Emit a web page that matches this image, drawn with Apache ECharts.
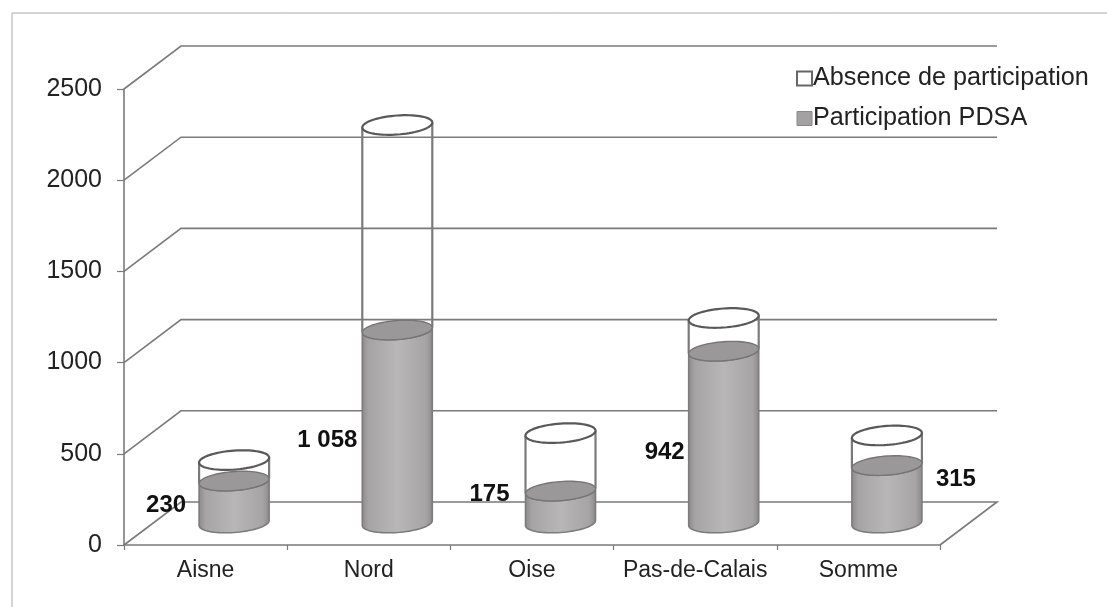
<!DOCTYPE html>
<html>
<head>
<meta charset="utf-8">
<style>html,body{margin:0;padding:0;background:#fff}#c{width:1107px;height:607px}</style>
<script src="https://cdn.jsdelivr.net/npm/echarts@6/dist/echarts.min.js"></script>
</head>
<body>
<div id="c"></div>
<script>
const categories = ['Aisne', 'Nord', 'Oise', 'Pas-de-Calais', 'Somme'];
const participation = [230, 1058, 175, 942, 315];
const absence = [115, 1124, 318, 182, 165];
const yTicks = [0, 500, 1000, 1500, 2000, 2500];
const seriesNames = ['Absence de participation', 'Participation PDSA'];

// 3D projection and label placement (style, not data)
const depth = { x: 57, y: -43 };
const cyl = { dx: 28.5, dy: -22, rx: 35, ry: 9.5, tilt: 0.07 };
const labelShift = [[-68, 24], [-70, 110], [-71, 3], [-59, 101], [69, 14]];
const font = 'Liberation Sans, Arial, sans-serif';
const lineGrey = '#7a7a7a';

function fmt(v) { return String(v).replace(/\B(?=(\d{3})+$)/g, ' '); }
function ellPt(cx, cy, t) {
  const c = Math.cos(t), s = Math.sin(t);
  return [cx + cyl.rx * c, cy + cyl.ry * s - cyl.rx * cyl.tilt * c];
}
function ellipse(cx, cy) {
  const p = [];
  for (let i = 0; i < 72; i++) p.push(ellPt(cx, cy, i / 72 * 2 * Math.PI));
  return p;
}
function body(cx, yTop, yBot) {
  const p = [];
  for (let i = 0; i <= 36; i++) p.push(ellPt(cx, yBot, i / 36 * Math.PI));
  for (let i = 36; i >= 0; i--) p.push(ellPt(cx, yTop, i / 36 * Math.PI));
  return p;
}
const bodyFill = {
  type: 'linear', x: 0, y: 0, x2: 1, y2: 0,
  colorStops: [
    { offset: 0, color: '#8a8888' }, { offset: 0.1, color: '#a6a4a4' },
    { offset: 0.5, color: '#b8b6b6' }, { offset: 0.9, color: '#a6a4a4' },
    { offset: 1, color: '#8a8888' }
  ]
};

function renderWall(params, api) {
  const cs = params.coordSys;
  const y = api.coord([0, api.value(0)])[1];
  const x0 = cs.x, x1 = cs.x + depth.x, x2 = cs.x + cs.width + depth.x, y1 = y + depth.y;
  const pts = [[x0, y], [x1, y1], [x2, y1]];
  if (api.value(0) === 0) pts.push([cs.x + cs.width, y]);
  return {
    type: 'polyline', silent: true,
    shape: { points: pts },
    style: { fill: 'none', stroke: lineGrey, lineWidth: 1.6 }
  };
}
function renderFull(params, api) {
  const c0 = api.coord([api.value(0), 0]);
  const cx = c0[0] + cyl.dx;
  const yBot = c0[1] + cyl.dy;
  const yTop = api.coord([api.value(0), api.value(1)])[1] + cyl.dy;
  const i = api.value(0);
  const lab = labelShift[i];
  return {
    type: 'group', children: [
      { type: 'polygon', shape: { points: body(cx, yTop, yBot) },
        style: { fill: bodyFill, stroke: '#7d7b7b', lineWidth: 1.6 } },
      { type: 'polygon', shape: { points: ellipse(cx, yTop) },
        style: { fill: '#9a9898', stroke: '#777575', lineWidth: 1.4 } },
      { type: 'text', z2: 50,
        style: { x: cx + lab[0], y: yTop + lab[1], text: fmt(api.value(1)), fill: '#111',
          font: 'bold 24px ' + font, align: 'center', verticalAlign: 'middle' } }
    ]
  };
}
function renderEmpty(params, api) {
  const i = api.value(0);
  const c0 = api.coord([i, 0]);
  const cx = c0[0] + cyl.dx;
  const yLow = api.coord([i, api.value(1)])[1] + cyl.dy;
  const yTop = api.coord([i, api.value(1) + api.value(2)])[1] + cyl.dy;
  const l = ellPt(cx, 0, Math.PI), r = ellPt(cx, 0, 0);
  return {
    type: 'group', children: [
      { type: 'line', shape: { x1: l[0], y1: yTop + l[1], x2: l[0], y2: yLow + l[1] },
        style: { stroke: lineGrey, lineWidth: 2.2 } },
      { type: 'line', shape: { x1: r[0], y1: yTop + r[1], x2: r[0], y2: yLow + r[1] },
        style: { stroke: lineGrey, lineWidth: 2.2 } },
      { type: 'polygon', shape: { points: ellipse(cx, yTop) },
        style: { fill: '#fff', stroke: '#5a5858', lineWidth: 2.2 } }
    ]
  };
}

const chart = echarts.init(document.getElementById('c'), null, { renderer: 'canvas' });
chart.setOption({
  animation: false,
  backgroundColor: '#ffffff',
  textStyle: { fontFamily: font },
  graphic: [{
    type: 'polyline', silent: true,
    shape: { points: [[12, 607], [12, 13], [1107, 13]] },
    style: { fill: 'none', stroke: '#a8a8a8', lineWidth: 1 }
  }],
  grid: { left: 124, top: 89, width: 816, height: 456, containLabel: false },
  legend: {
    orient: 'vertical', left: 791, top: 61, itemWidth: 15, itemHeight: 14, itemGap: 15,
    textStyle: { fontSize: 25.2, color: '#222', fontFamily: font, padding: [0, 0, 0, -4] },
    data: [
      { name: seriesNames[0], icon: 'rect', itemStyle: { color: '#fff', borderColor: '#666', borderWidth: 2 } },
      { name: seriesNames[1], icon: 'rect', itemStyle: { color: '#a3a1a1', borderColor: '#888', borderWidth: 1 } }
    ]
  },
  xAxis: {
    type: 'category', data: categories, boundaryGap: true,
    axisLine: { show: true, lineStyle: { color: lineGrey, width: 1.6 } },
    axisTick: { show: true, length: 5, lineStyle: { color: lineGrey, width: 1.2 } },
    axisLabel: { fontSize: 23, color: '#222', margin: 14, fontFamily: font, interval: 0 }
  },
  yAxis: {
    type: 'value', min: 0, max: 2500, interval: 500,
    axisLine: { show: true, lineStyle: { color: lineGrey, width: 1.6 } },
    axisTick: { show: true, length: 7, lineStyle: { color: lineGrey, width: 1.2 } },
    axisLabel: { fontSize: 25, color: '#222', margin: 22, fontFamily: font, formatter: v => String(v) },
    splitLine: { show: false }
  },
  series: [
    { type: 'custom', name: 'wall', renderItem: renderWall, silent: true, z: 1, clip: false,
      encode: { y: 0 }, data: yTicks.map(v => [v]) },
    { type: 'custom', name: seriesNames[1], renderItem: renderFull, z: 3, clip: false,
      encode: { x: 0, y: 1 }, data: categories.map((c, i) => [i, participation[i]]) },
    { type: 'custom', name: seriesNames[0], renderItem: renderEmpty, z: 2, clip: false,
      encode: { x: 0, y: [1, 2] }, data: categories.map((c, i) => [i, participation[i], absence[i]]) }
  ]
});
</script>
</body>
</html>
